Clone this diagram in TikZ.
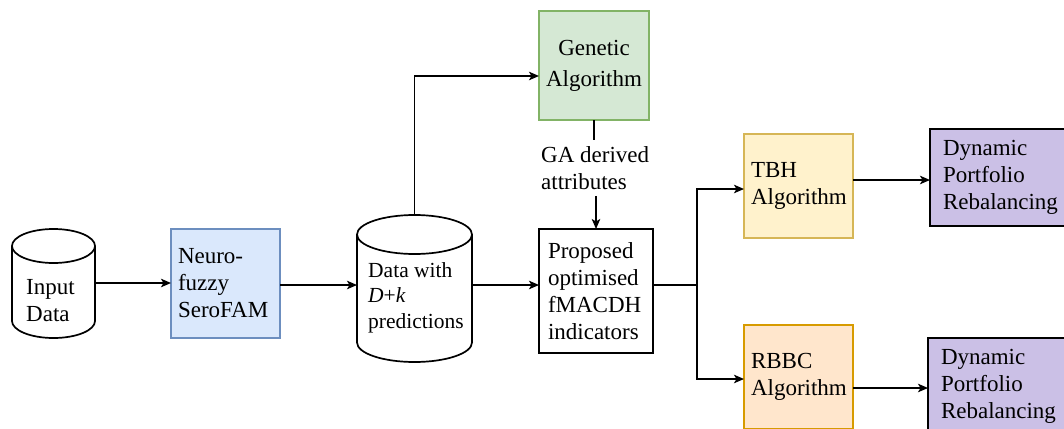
\documentclass[tikz,border=0pt]{standalone}
\usepackage{fontspec}
\setmainfont{Liberation Serif}
\usetikzlibrary{arrows.meta,calc}

\definecolor{neurofill}{HTML}{DAE8FC}
\definecolor{neurodraw}{HTML}{6C8EBF}
\definecolor{gafill}{HTML}{D5E8D4}
\definecolor{gadraw}{HTML}{82B366}
\definecolor{tbhfill}{HTML}{FFF2CC}
\definecolor{tbhdraw}{HTML}{D6B656}
\definecolor{rbbcfill}{HTML}{FFE6CC}
\definecolor{rbbcdraw}{HTML}{D79B00}
\definecolor{dynfill}{HTML}{CBC0E6}

% cylinder outline around a (text-free) node: name, x radius, y radius
\newcommand\drum[3]{%
  \draw[drumline] ([yshift=-#3]#1.north west) -- ([yshift=#3]#1.south west)
    arc[start angle=180,end angle=360,x radius=#2,y radius=#3]
    -- ([yshift=-#3]#1.north east);
  \draw[drumline] ([yshift=-#3]#1.north) ellipse[x radius=#2,y radius=#3];
}

\begin{document}
\begin{tikzpicture}[x=1pt,y=-1pt,
  txt/.style={font=\fontsize{23}{27}\selectfont},
  box/.style={txt, draw, align=left, inner ysep=0pt, outer sep=0pt},
  thinbox/.style={box, line width=1.1pt},
  heavybox/.style={box, line width=2.8pt},
  body/.style={minimum width=#1, inner sep=0pt, outer sep=0pt},
  drumline/.style={line width=1.7pt},
  link/.style={line width=1.6pt},
  arrow/.style={link, -{Stealth[length=10pt,width=8.5pt,inset=2.5pt]}},
  plain/.style={txt, align=left, inner sep=0pt, anchor=west}
]
\useasboundingbox (0,0) rectangle (1064,428);
\clip (0,0) rectangle (1064,428);

% data stores
\node[body=83pt, minimum height=109pt] (inp) at (53.5,283.5) {};
\drum{inp}{41.5pt}{17pt}
\node[plain] (inptext) at (26,301) {Input\\Data};

\node[body=115pt, minimum height=147pt] (data) at (414.5,288.5) {};
\drum{data}{57.5pt}{19.5pt}
\node[plain, font=\fontsize{21.5}{25.5}\selectfont] (datatext) at (368,297.5)
  {Data with\\\textit{D}+\textit{k}\\predictions};

% processing stages
\node[thinbox, fill=neurofill, draw=neurodraw, text width=95pt, inner xsep=7pt,
  minimum height=109pt] (neuro) at (225.5,283.5) {Neuro-\\fuzzy\\SeroFAM};

\node[thinbox, fill=gafill, draw=gadraw, text width=100pt, inner xsep=5pt,
  minimum height=109pt, align=center, font=\fontsize{23}{31}\selectfont]
  (ga) at (594,65.5) {Genetic\\Algorithm};

\node[heavybox, text width=96pt, inner xsep=9pt, minimum height=124pt]
  (prop) at (596,291) {Proposed\\optimised\\fMACDH\\indicators};

\node[plain, inner ysep=6pt] (galabel) at (541,168) {GA derived\\attributes};

\node[thinbox, fill=tbhfill, draw=tbhdraw, text width=95pt, inner xsep=7pt,
  minimum height=104pt] (tbh) at (798.5,186) {TBH\\Algorithm};
\node[thinbox, fill=rbbcfill, draw=rbbcdraw, text width=95pt, inner xsep=7pt,
  minimum height=104pt] (rbbc) at (798.5,377) {RBBC\\Algorithm};

\node[heavybox, fill=dynfill, text width=119pt, inner xsep=13pt,
  minimum height=97pt] (dyn1) at (1002.5,177.5) {Dynamic\\Portfolio\\Rebalancing};
\node[heavybox, fill=dynfill, text width=119pt, inner xsep=13pt,
  minimum height=97pt] (dyn2) at (1000.5,386.5) {Dynamic\\Portfolio\\Rebalancing};

% connectors
\draw[arrow] (inp.east |- 0,283) -- (neuro.west |- 0,283);
\draw[arrow] (neuro.east |- 0,285) -- (data.west |- 0,285);
\draw[arrow] (data.east |- 0,285) -- (prop.west |- 0,285);
\draw[arrow] (data.north) |- (ga.west |- 0,76);
\draw[link] (ga.south) -- (ga.south |- galabel.north);
\draw[arrow] (prop.north |- galabel.south) -- (prop.north);

\coordinate (fork) at (697,285);
\draw[link] (prop.east |- fork) -- (fork);
\draw[arrow] (fork) |- (tbh.west |- 0,189);
\draw[arrow] (fork) |- (rbbc.west |- 0,379);
\draw[arrow] (tbh.east |- 0,180) -- (dyn1.west |- 0,180);
\draw[arrow] (rbbc.east |- 0,388) -- (dyn2.west |- 0,388);
\end{tikzpicture}
\end{document}
